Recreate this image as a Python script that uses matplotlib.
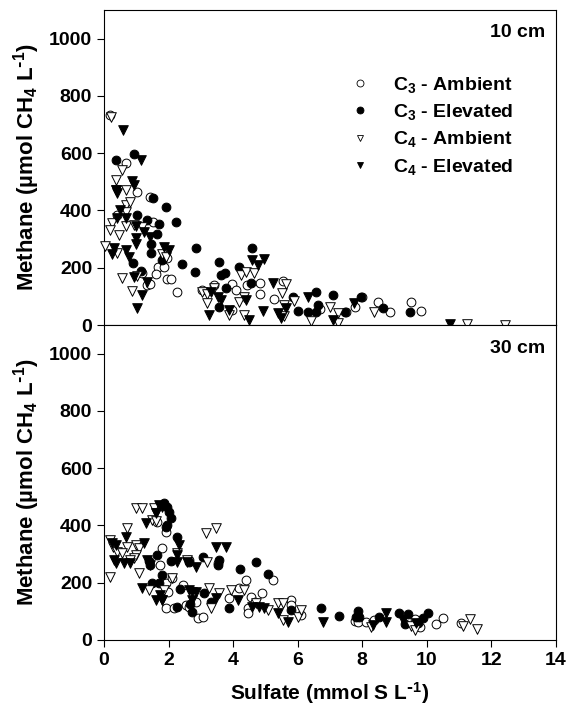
"""Methane vs sulfate porewater scatter, 10 cm and 30 cm depth panels."""

import matplotlib

matplotlib.use("Agg")
import matplotlib.pyplot as plt
from matplotlib.lines import Line2D

plt.rcParams["font.family"] = ["Liberation Sans", "DejaVu Sans"]
plt.rcParams["font.weight"] = "bold"
plt.rcParams["mathtext.default"] = "regular"

SERIES = ["C$_3$ - Ambient", "C$_3$ - Elevated", "C$_4$ - Ambient", "C$_4$ - Elevated"]
DEPTHS = ["10 cm", "30 cm"]

# ---- 10 cm ----
c3_amb_10_x = [0.20, 0.67, 1.03, 1.44, 0.39, 1.52, 1.86, 1.96, 1.68, 1.86, 1.60, 1.19, 1.34, 1.44,
               1.96, 2.09, 2.27, 3.05, 3.41, 3.95, 4.08, 4.43, 4.84, 4.84, 5.27, 5.56, 3.98, 6.70,
               8.00, 7.76, 8.50, 8.85, 9.50, 9.81, 7.50]
c3_amb_10_y = [733, 567, 463, 448, 384, 361, 238, 233, 204, 204, 178, 183, 140, 143,
               161, 161, 114, 122, 140, 142, 122, 140, 146, 107, 90, 154, 52, 56,
               99, 64, 81, 46, 79, 50, 46]

c3_elv_10_x = [0.93, 0.36, 1.53, 1.91, 1.03, 2.22, 1.32, 1.71, 1.65, 1.46, 1.46, 1.81, 0.90, 2.43,
               2.84, 2.81, 1.15, 3.57, 4.60, 4.19, 3.62, 3.75, 3.77, 4.55, 3.57, 5.86, 6.00, 6.57,
               7.09, 6.62, 6.57, 6.31, 7.97, 8.64, 9.47, 7.45]
c3_elv_10_y = [596, 576, 445, 413, 384, 358, 367, 351, 318, 282, 252, 227, 215, 213,
               268, 184, 189, 219, 268, 204, 175, 180, 130, 146, 62, 97, 50, 116,
               105, 70, 46, 46, 99, 58, 46, 46]

c4_amb_10_x = [0.22, 0.56, 0.36, 0.36, 0.67, 0.67, 0.82, 0.67, 0.25, 0.20, 0.67, 0.93, 1.19, 0.46,
               0.02, 0.41, 1.81, 1.91, 0.56, 0.88, 1.03, 3.05, 3.20, 3.41, 3.20, 3.88, 4.19, 4.34,
               4.34, 4.24, 4.39, 4.65, 5.51, 5.64, 5.58, 5.88, 5.58, 7.00, 7.24, 6.41, 7.24, 8.36,
               11.25, 12.42]
c4_amb_10_y = [725, 541, 506, 471, 471, 419, 430, 396, 355, 332, 346, 349, 343, 314,
               277, 250, 248, 236, 163, 120, 172, 116, 110, 128, 76, 35, 81, 99,
               35, 175, 186, 180, 113, 142, 70, 84, 30, 62, 41, 15, 7, 46,
               3, 0]

c4_elv_10_x = [0.58, 1.15, 0.88, 0.93, 0.36, 0.39, 0.51, 0.41, 0.67, 0.98, 1.24, 1.44, 0.98, 0.98,
               1.86, 2.01, 0.31, 0.25, 0.67, 0.77, 0.93, 1.19, 1.03, 1.32, 3.31, 3.52, 3.62, 3.25,
               3.88, 4.39, 4.50, 4.60, 4.96, 4.76, 5.22, 4.94, 5.38, 5.48, 5.64, 6.31, 7.09, 7.74,
               10.71]
c4_elv_10_y = [681, 576, 504, 489, 471, 460, 402, 372, 372, 346, 326, 309, 303, 283,
               273, 262, 268, 248, 262, 238, 169, 105, 58, 151, 116, 99, 87, 35,
               52, 87, 17, 227, 229, 209, 146, 50, 41, 23, 58, 99, 17, 78,
               3]

# ---- 30 cm ----
c3_amb_30_x = [1.65, 1.91, 1.81, 1.75, 1.91, 1.97, 2.12, 1.91, 2.17, 2.44, 2.63, 2.53, 2.63, 2.84,
               2.90, 3.07, 3.52, 3.88, 4.19, 4.39, 4.55, 4.91, 4.45, 4.45, 5.22, 5.79, 5.79, 4.67,
               6.10, 7.76, 7.88, 8.12, 8.36, 9.62, 9.78, 10.29, 10.50, 11.07]
c3_amb_30_y = [413, 378, 320, 262, 198, 169, 218, 111, 111, 192, 279, 122, 116, 134,
               76, 79, 268, 146, 180, 209, 151, 165, 111, 93, 209, 140, 122, 134,
               87, 67, 62, 64, 70, 72, 46, 55, 76, 58]

c3_elv_30_x = [1.86, 1.96, 2.01, 2.07, 1.96, 1.91, 2.25, 1.65, 1.39, 1.44, 2.07, 2.63, 3.08, 3.57,
               3.52, 1.79, 1.50, 1.70, 2.35, 2.27, 2.66, 2.74, 3.10, 3.31, 3.88, 4.22, 4.70, 5.07,
               5.79, 6.72, 7.29, 7.86, 7.81, 7.91, 8.53, 9.14, 9.42, 9.31, 9.73, 9.88, 10.04]
c3_elv_30_y = [479, 465, 448, 425, 402, 396, 361, 297, 276, 262, 276, 273, 291, 279,
               262, 227, 198, 198, 177, 116, 126, 99, 165, 134, 111, 247, 271, 229,
               105, 111, 85, 102, 81, 79, 81, 93, 91, 56, 58, 76, 93]

c4_amb_30_x = [0.20, 0.20, 0.28, 0.39, 0.72, 0.98, 1.08, 0.98, 0.93, 0.82, 0.57, 0.72, 1.08, 0.98,
               1.19, 1.55, 1.60, 1.50, 1.60, 1.39, 1.86, 1.81, 2.12, 2.27, 2.58, 3.15, 3.46, 3.20,
               3.25, 3.56, 3.93, 3.31, 4.34, 4.70, 5.07, 5.38, 5.53, 5.53, 6.00, 6.10, 8.28, 9.52,
               9.62, 11.12, 11.35, 11.56]
c4_amb_30_y = [349, 221, 326, 308, 326, 332, 320, 297, 285, 279, 303, 390, 233, 460,
               462, 460, 442, 419, 417, 175, 175, 140, 215, 303, 279, 373, 390, 273,
               180, 165, 175, 111, 175, 128, 105, 128, 128, 70, 81, 105, 46, 49,
               35, 49, 72, 37]

c4_elv_30_x = [0.25, 0.36, 0.30, 0.36, 0.61, 0.82, 0.67, 1.29, 1.24, 1.70, 1.81, 1.60, 1.34, 1.44,
               2.32, 2.27, 2.27, 2.58, 2.84, 1.19, 1.75, 1.81, 1.60, 2.63, 2.74, 2.84, 2.74, 3.46,
               3.77, 3.46, 4.14, 4.60, 4.81, 4.96, 5.38, 5.69, 6.78, 8.33, 8.74, 8.74, 9.26, 9.65]
c4_elv_30_y = [338, 332, 279, 268, 268, 268, 361, 407, 340, 471, 465, 442, 279, 262,
               332, 297, 273, 273, 256, 180, 157, 140, 140, 175, 169, 169, 140, 326,
               326, 146, 140, 116, 116, 111, 93, 64, 64, 52, 93, 64, 70, 58]

X_TICKS = [0, 2, 4, 6, 8, 10, 12, 14]
Y_TICKS = [0, 200, 400, 600, 800, 1000]

STYLES = [
    dict(marker="o", facecolor="white", edgecolor="black", s=40),
    dict(marker="o", facecolor="black", edgecolor="black", s=40),
    dict(marker="v", facecolor="white", edgecolor="black", s=48),
    dict(marker="v", facecolor="black", edgecolor="black", s=48),
]

# superscript "-1" drawn with a plain hyphen, as in the original figure
INV = r"$^{\text{-}1}$"


def style_axis(ax):
    ax.set_xlim(0, 14)
    ax.set_ylim(0, 1100)
    ax.set_yticks(Y_TICKS)
    ax.set_xticks(X_TICKS)
    ax.tick_params(direction="out", length=5, width=0.8, labelsize=14)
    for lab in ax.get_xticklabels() + ax.get_yticklabels():
        lab.set_fontweight("bold")
    ax.set_ylabel("Methane (µmol CH$_4$ L" + INV + ")", fontsize=16, fontweight="bold", labelpad=5)
    for sp in ax.spines.values():
        sp.set_linewidth(0.8)


def main():
    fig = plt.figure(figsize=(5.66, 7.07), dpi=100)
    ax_top = fig.add_axes([0.1837, 0.5403, 0.7986, 0.4456])
    ax_bot = fig.add_axes([0.1837, 0.0948, 0.7986, 0.4455])

    panels = [
        (ax_top, [(c3_amb_10_x, c3_amb_10_y), (c3_elv_10_x, c3_elv_10_y),
                  (c4_amb_10_x, c4_amb_10_y), (c4_elv_10_x, c4_elv_10_y)]),
        (ax_bot, [(c3_amb_30_x, c3_amb_30_y), (c3_elv_30_x, c3_elv_30_y),
                  (c4_amb_30_x, c4_amb_30_y), (c4_elv_30_x, c4_elv_30_y)]),
    ]
    for (ax, data), depth in zip(panels, DEPTHS):
        for (xs, ys), st in zip(data, STYLES):
            ax.scatter(xs, ys, linewidths=0.7, clip_on=False, zorder=3, **st)
        style_axis(ax)
        ax.text(0.976, 0.927, depth, transform=ax.transAxes, ha="right", va="center",
                fontsize=14, fontweight="bold")

    ax_top.tick_params(bottom=False, labelbottom=False)
    ax_bot.set_xlabel("Sulfate (mmol S L" + INV + ")", fontsize=15, fontweight="bold", labelpad=8)

    handles = [
        Line2D([], [], ls="none", marker=st["marker"], markerfacecolor=st["facecolor"],
               markeredgecolor="black", markeredgewidth=0.6, markersize=5)
        for st in STYLES
    ]
    ax_top.legend(handles, SERIES, loc="upper left", bbox_to_anchor=(0.523, 0.795),
                  frameon=False, borderpad=0, borderaxespad=0, handlelength=2.0,
                  handletextpad=0.7, labelspacing=0.38, prop={"size": 14, "weight": "bold"})

    fig.savefig("out.png", dpi=100)
    plt.close(fig)


if __name__ == "__main__":
    main()
